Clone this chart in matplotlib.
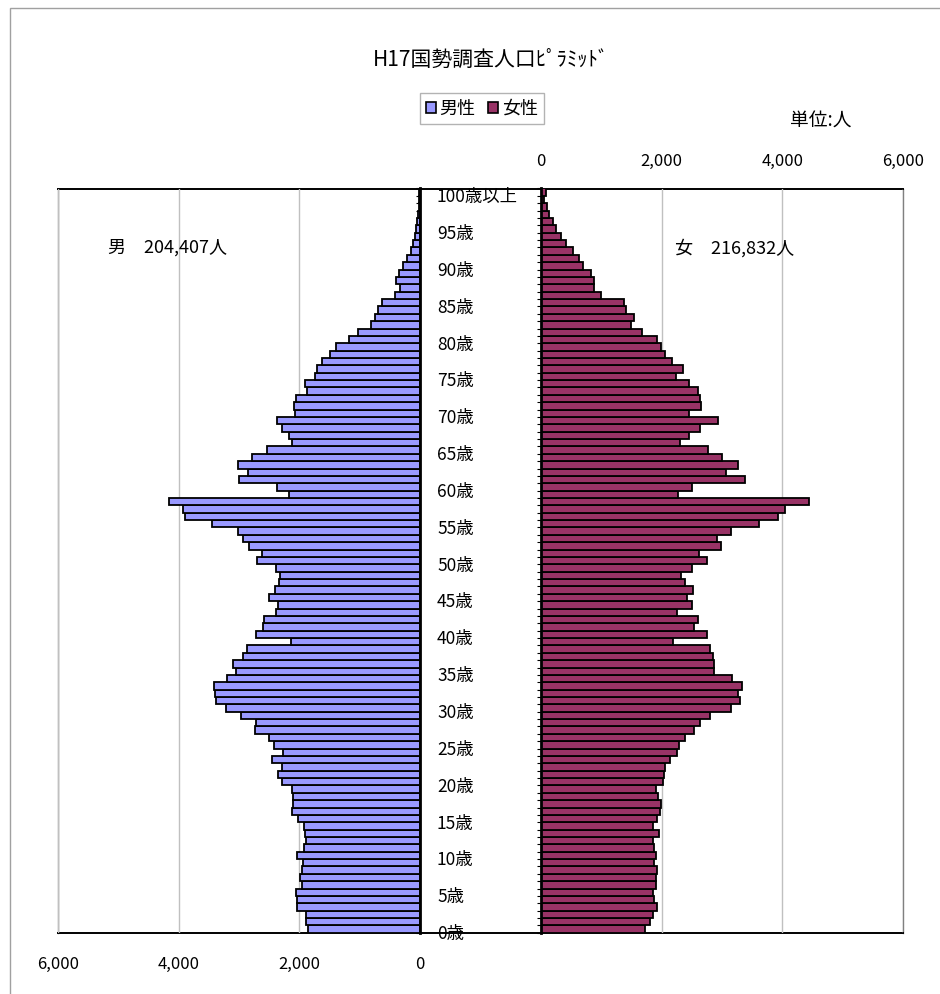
import numpy as np
import matplotlib
matplotlib.use("Agg")
import matplotlib.pyplot as plt
from matplotlib.patches import Patch, Rectangle
from matplotlib.transforms import blended_transform_factory, ScaledTranslation

plt.rcParams['font.family'] = ['Noto Sans CJK JP', 'DejaVu Sans']

# 年齢 0歳 ～ 100歳以上
ages = list(range(0, 101))

# 男性 (0歳 -> 100歳以上)
male = [1862, 1884, 1895, 2033, 2033, 2050, 1961, 1994, 1961, 1939,
        2033, 1917, 1895, 1901, 1923, 2017, 2127, 2105, 2105, 2121,
        2287, 2353, 2292, 2457, 2264, 2424, 2507, 2733, 2716, 2975,
        3218, 3377, 3399, 3421, 3201, 3047, 3096, 2926, 2871, 2138,
        2722, 2595, 2590, 2380, 2347, 2496, 2408, 2336, 2314, 2380,
        2694, 2623, 2837, 2937, 3020, 3444, 3890, 3928, 4165, 2165,
        2369, 3008, 2843, 3020, 2782, 2540, 2127, 2171, 2287, 2375,
        2077, 2083, 2055, 1879, 1906, 1741, 1708, 1620, 1499, 1394,
        1174, 1025, 815, 738, 694, 628, 419, 336, 402, 342,
        275, 220, 155, 121, 88, 66, 45, 32, 22, 14,
        10]

# 女性 (0歳 -> 100歳以上)
female = [1716, 1810, 1849, 1915, 1876, 1860, 1904, 1898, 1915, 1876,
          1904, 1865, 1849, 1954, 1849, 1926, 1965, 1987, 1932, 1904,
          2020, 2031, 2053, 2136, 2252, 2285, 2390, 2539, 2638, 2793,
          3157, 3300, 3273, 3333, 3168, 2864, 2864, 2859, 2804, 2185,
          2759, 2539, 2599, 2252, 2511, 2417, 2522, 2379, 2323, 2511,
          2759, 2627, 2991, 2914, 3146, 3609, 3929, 4045, 4437, 2279,
          2500, 3377, 3063, 3273, 3008, 2765, 2312, 2461, 2638, 2930,
          2445, 2649, 2638, 2594, 2450, 2241, 2351, 2169, 2058, 1987,
          1926, 1672, 1496, 1540, 1407, 1369, 993, 872, 883, 828,
          695, 635, 530, 419, 331, 243, 199, 132, 99, 44,
          77]

xticks = [0, 2000, 4000, 6000]
label_ages = list(range(0, 101, 5))
title = "H17国勢調査人口ﾋﾟﾗﾐｯﾄﾞ"
male_total = "男　204,407人"
female_total = "女　216,832人"

W, H = 940, 994


def fx(px):
    return px / W


def fy(py):
    return 1 - py / H


fig = plt.figure(figsize=(W / 100, H / 100), dpi=100)

bottom = fy(932.8)
height = fy(188.5) - bottom

# 外枠 (左と上だけ見える)
fig.add_artist(Rectangle((fx(10), -0.1), 1.2, fy(8) + 0.1, fill=False,
                         edgecolor='#A0A0A0', lw=1, transform=fig.transFigure))

# 全体の枠
bg = fig.add_axes([fx(58), bottom, fx(903) - fx(58), height])
bg.set_xticks([])
bg.set_yticks([])
for s in ['top', 'bottom']:
    bg.spines[s].set_color('black')
    bg.spines[s].set_linewidth(1.4)
for s in ['left', 'right']:
    bg.spines[s].set_color('#808080')
    bg.spines[s].set_linewidth(1.0)

# 男性
axm = fig.add_axes([fx(58), bottom, fx(420) - fx(58), height])
axm.set_facecolor('none')
axm.barh(ages, male, height=1.0, color='#9999FF', edgecolor='black', lw=1.3, zorder=3)
axm.set_xlim(6000, 0)
axm.set_ylim(-0.5, 100.5)
axm.set_xticks(xticks)
axm.set_xticklabels([f"{v:,}" for v in xticks])
axm.tick_params(axis='x', length=0, pad=17, labelsize=12)
axm.grid(axis='x', color='#C0C0C0', lw=1)
axm.set_axisbelow(True)
axm.yaxis.tick_right()
axm.set_yticks(np.arange(-0.5, 101, 1))
axm.set_yticklabels([])
axm.tick_params(axis='y', direction='in', length=3, width=0.8)
for s in ['top', 'bottom', 'left']:
    axm.spines[s].set_visible(False)
axm.spines['right'].set_linewidth(2)
axm.spines['right'].set_zorder(4)

# 女性
axf = fig.add_axes([fx(541), bottom, fx(903) - fx(541), height])
axf.set_facecolor('none')
axf.barh(ages, female, height=1.0, color='#993366', edgecolor='black', lw=1.3, zorder=3)
axf.set_xlim(0, 6000)
axf.set_ylim(-0.5, 100.5)
axf.xaxis.tick_top()
axf.set_xticks(xticks)
axf.set_xticklabels([f"{v:,}" for v in xticks])
axf.tick_params(axis='x', length=0, pad=13, labelsize=12)
axf.grid(axis='x', color='#C0C0C0', lw=1)
axf.set_axisbelow(True)
axf.set_yticks(np.arange(-0.5, 101, 1))
axf.set_yticklabels([])
axf.tick_params(axis='y', direction='out', length=3, width=0.8)
for s in ['top', 'bottom', 'right']:
    axf.spines[s].set_visible(False)
axf.spines['left'].set_linewidth(2)
axf.spines['left'].set_zorder(4)

# 年齢ラベル (少し下にずらす)
tr = blended_transform_factory(fig.transFigure, axm.transData) + \
    ScaledTranslation(0, -5 / 100, fig.dpi_scale_trans)
for a in label_ages:
    txt = "100歳以上" if a == 100 else f"{a}歳"
    fig.text(fx(437), a, txt, transform=tr, ha='left', va='center', fontsize=12.5)

fig.text(fx(491), fy(60), title, ha='center', va='center', fontsize=15)
fig.text(fx(790), fy(121), "単位:人", ha='left', va='center', fontsize=13.5)
fig.text(fx(108), fy(248), male_total, ha='left', va='center', fontsize=13)
fig.text(fx(675), fy(248), female_total, ha='left', va='center', fontsize=13)

handles = [Patch(facecolor='#9999FF', edgecolor='black', lw=1.2, label='男性'),
           Patch(facecolor='#993366', edgecolor='black', lw=1.2, label='女性')]
leg = fig.legend(handles=handles, loc='center', bbox_to_anchor=(fx(482), fy(108.5)),
                 ncol=2, fontsize=13, frameon=True, fancybox=False,
                 handlelength=0.55, handleheight=0.55, handletextpad=0.2,
                 columnspacing=0.7, borderpad=0.35, borderaxespad=0)
leg.get_frame().set_edgecolor('#A0A0A0')
leg.get_frame().set_linewidth(1)

fig.savefig("out.png", dpi=100)
